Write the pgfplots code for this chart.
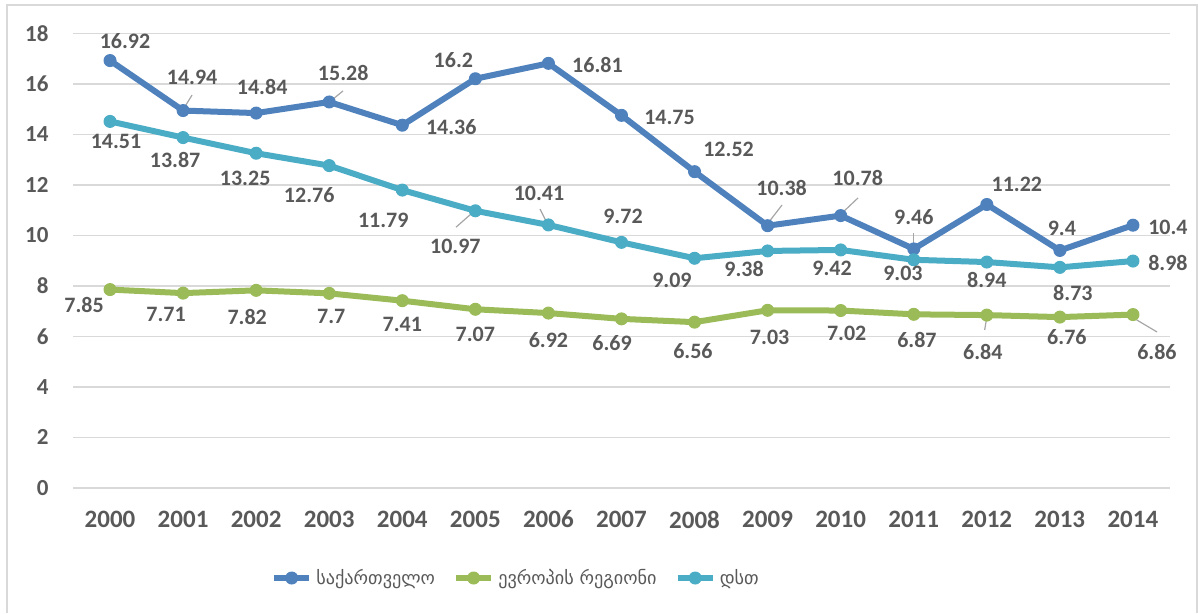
\documentclass[border=0pt]{standalone}
\usepackage{fontspec}
\setmainfont{Carlito}
\newfontfamily\geofont{DejaVu Sans}
\usepackage{pgfplots}
\usepackage{pgfplotstable}
\pgfplotsset{compat=1.18}
\definecolor{cGeo}{HTML}{4F81BD}
\definecolor{cEur}{HTML}{9BBB59}
\definecolor{cCis}{HTML}{4BACC6}
\definecolor{textgray}{HTML}{595959}
\definecolor{gridgray}{HTML}{D9D9D9}
\definecolor{leadgray}{HTML}{A6A6A6}

\pgfplotstableread{
x y dx dy
2000 16.92 7.5 9.8
2001 14.94 4.5 16.8
2002 14.84 3 13
2003 15.28 7 14.5
2004 14.36 24.5 -1
2005 16.2 -11 9.3
2006 16.81 24.5 -1
2007 14.75 24 -1
2008 12.52 17 11
2009 10.38 7 19
2010 10.78 8.5 19
2011 9.46 0 16
2012 11.22 15 10
2013 9.4 1 11
2014 10.4 17.5 -1
}\geotab

\pgfplotstableread{
x y dx dy
2000 7.85 -13 -7.7
2001 7.71 -8.5 -10.5
2002 7.82 -4.5 -13.3
2003 7.7 1 -11.3
2004 7.41 0 -12
2005 7.07 0 -12.3
2006 6.92 0 -13.5
2007 6.69 -4.7 -12
2008 6.56 -0.8 -14.4
2009 7.03 1 -13.3
2010 7.02 3 -11.2
2011 6.87 1.6 -12.8
2012 6.84 -2 -18.5
2013 6.76 3.5 -10
2014 6.86 12 -18.7
}\eurtab

\pgfplotstableread{
x y dx dy
2000 14.51 3 -9.8
2001 13.87 -4 -11.2
2002 13.25 -5.5 -12.4
2003 12.76 -10 -14.7
2004 11.79 -9.5 -15
2005 10.97 -10 -18
2006 10.41 -4.7 16
2007 9.72 0.75 13.2
2008 9.09 -11.3 -10.8
2009 9.38 -11.8 -9
2010 9.42 -4.3 -9
2011 9.03 -5.4 -6.6
2012 8.94 0 -9
2013 8.73 6.5 -12.8
2014 8.98 17.5 -1
}\cistab

\begin{document}
\begin{tikzpicture}
\begin{axis}[
  name=ax,
  scale only axis,
  width=548pt, height=227.25pt,
  xmin=1999.5, xmax=2014.5, ymin=0, ymax=18,
  xtick={2000,...,2014}, ytick={0,2,...,18},
  ymajorgrids, grid style={color=gridgray, line width=0.75pt},
  axis line style={draw=none},
  major tick length=0pt,
  /pgf/number format/.cd, 1000 sep={}, assume math mode=true,
  /pgfplots/.cd,
  ticklabel style={text=textgray},
  x tick label style={font=\fontsize{12.5}{14}\selectfont\bfseries, yshift=-8pt},
  y tick label style={font=\fontsize{11.5}{13}\selectfont\bfseries, xshift=-9pt},
  clip=false,
  legend style={at={(0.4046,-0.1985)}, anchor=center, legend columns=3, draw=none, fill=none,
    font=\geofont\fontsize{9.1}{11}\selectfont, text=textgray,
    /tikz/every even column/.append style={column sep=7pt}},
  legend image code/.code={\draw[mark repeat=2,mark phase=2] plot coordinates {(0cm,0cm) (0.31cm,0cm) (0.62cm,0cm)};},
  lab/.style={nodes near coords, point meta=explicit symbolic,
    visualization depends on={\thisrow{dx}\as\dx},
    visualization depends on={\thisrow{dy}\as\dy},
    every node near coord/.append style={font=\fontsize{11}{13}\selectfont\bfseries, text=textgray,
      anchor=center, xshift=\dx pt, yshift=\dy pt}},
  lead/.style={leadgray, line width=0.6pt, forget plot, mark=none},
]
\addplot[lead] coordinates {(2001.122,15.55) (2001.013,15.04)};
\addplot[lead] coordinates {(2003.189,15.72) (2003.038,15.36)};
\addplot[lead] coordinates {(2009.197,11.20) (2009.005,10.48)};
\addplot[lead] coordinates {(2010.237,11.48) (2010.018,10.88)};
\addplot[lead] coordinates {(2011.0,10.09) (2011.0,9.50)};
\addplot[lead] coordinates {(2004.735,10.32) (2004.97,10.92)};
\addplot[lead] coordinates {(2005.885,11.04) (2005.98,10.49)};
\addplot[lead] coordinates {(2011.97,6.25) (2012.0,6.77)};
\addplot[lead] coordinates {(2014.33,6.17) (2014.05,6.65)};

\addplot[cGeo, line width=3pt, line join=round, mark=*, mark size=3pt,
  mark options={line width=0.5pt, fill=cGeo, draw=cGeo}, lab]
  table[x=x, y=y, meta=y] {\geotab};
\addlegendentry{საქართველო}
\addplot[cEur, line width=3pt, line join=round, mark=*, mark size=3pt,
  mark options={line width=0.5pt, fill=cEur, draw=cEur}, lab]
  table[x=x, y=y, meta=y] {\eurtab};
\addlegendentry{ევროპის რეგიონი}
\addplot[cCis, line width=3pt, line join=round, mark=*, mark size=3pt,
  mark options={line width=0.5pt, fill=cCis, draw=cCis}, lab]
  table[x=x, y=y, meta=y] {\cistab};
\addlegendentry{დსთ}
\end{axis}
\begin{scope}[shift={(ax.south west)}]
\path (-36.75pt,-62.6pt) rectangle (562.25pt,243.9pt);
\draw[gridgray, line width=1pt] (-33.25pt,-62.6pt) -- (-33.25pt,241.4pt) -- (561.75pt,241.4pt) -- (561.75pt,-62.6pt);
\end{scope}
\end{tikzpicture}
\end{document}
